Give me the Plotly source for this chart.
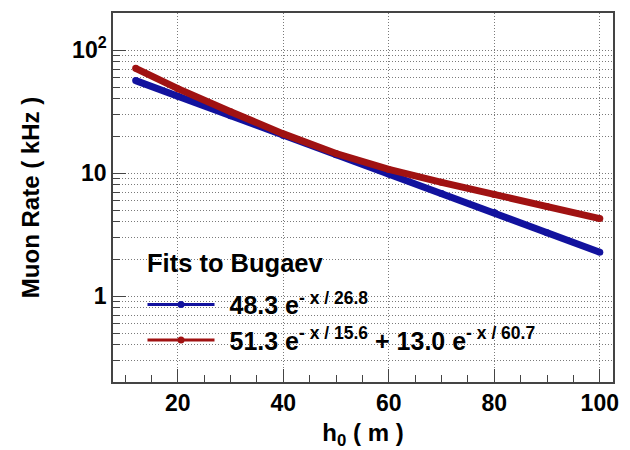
import plotly.graph_objects as go

# Values
h0 = [12, 20, 30, 40, 50, 60, 70, 80, 90, 100]
rate_single = [56.4, 42.1, 29.2, 20.2, 14.1, 9.8, 6.8, 4.78, 3.27, 2.27]
rate_double = [71.0, 48.5, 31.5, 20.8, 14.4, 10.7, 8.4, 6.7, 5.35, 4.26]

label_single = "&#8201;&#8201;48.3 e<sup>- x / 26.8</sup>"
label_double = "&#8201;&#8201;51.3 e<sup>- x / 15.6</sup> + 13.0 e<sup>- x / 60.7</sup>"
legend_title = "Fits to Bugaev"

x_ticks = [20, 40, 60, 80, 100]
y_ticks = [1, 10, 100]
y_ticktext = ["1", "10", "10<sup>2</sup>"]
y_minor = [0.2, 0.3, 0.4, 0.5, 0.6, 0.7, 0.8, 0.9,
           2, 3, 4, 5, 6, 7, 8, 9,
           20, 30, 40, 50, 60, 70, 80, 90, 200]

BLUE = "#12129e"
RED = "#a01212"
FONT = "Liberation Sans"
GRID = "#7a7a7a"
GRIDDASH = "1px,2px"

fig = go.Figure()
# curves
fig.add_trace(go.Scatter(x=h0, y=rate_single, mode="lines+markers",
                         line=dict(color=BLUE, width=7),
                         marker=dict(color=BLUE, size=7),
                         showlegend=False, hoverinfo="skip"))
fig.add_trace(go.Scatter(x=h0, y=rate_double, mode="lines+markers",
                         line=dict(color=RED, width=7),
                         marker=dict(color=RED, size=7),
                         showlegend=False, hoverinfo="skip"))
# legend entries
fig.add_trace(go.Scatter(x=[None], y=[None], mode="lines+markers", name=label_single,
                         legendgroup="a",
                         line=dict(color=BLUE, width=3), marker=dict(color=BLUE, size=7)))
fig.add_trace(go.Scatter(x=[None], y=[None], mode="lines+markers", name=label_double,
                         legendgroup="b",
                         line=dict(color=RED, width=3), marker=dict(color=RED, size=7)))

axis_common = dict(
    showline=True, mirror=True, linecolor="#444", linewidth=1.5,
    ticks="inside", tickcolor="#444", tickwidth=1,
    showgrid=True, gridcolor=GRID, griddash=GRIDDASH, gridwidth=1,
    zeroline=False, automargin=False,
    tickfont=dict(family=FONT, size=23, color="black", weight="bold"),
)

fig.update_xaxes(
    **axis_common,
    range=[7.7, 102.5],
    tickmode="array", tickvals=x_ticks, ticklen=13,
    minor=dict(ticks="inside", ticklen=7, tick0=0, dtick=5, tickcolor="#444", showgrid=False),
    title=dict(text="h<sub>0</sub> ( m )", font=dict(family=FONT, size=24, color="black", weight="bold"),
               standoff=16),
)
fig.update_yaxes(
    **axis_common,
    type="log",
    range=[-0.699, 2.301],
    tickmode="array", tickvals=y_ticks, ticktext=y_ticktext, ticklen=13,
    minor=dict(ticks="inside", ticklen=7, tickmode="array", tickvals=y_minor,
               tickcolor="#444", showgrid=True, gridcolor=GRID, griddash=GRIDDASH, gridwidth=1),
    title=dict(text="Muon Rate ( kHz )", font=dict(family=FONT, size=24, color="black", weight="bold"),
               standoff=26),
)

fig.add_annotation(
    text=legend_title, xref="paper", yref="paper", x=0.064, y=0.3225,
    xanchor="left", yanchor="middle", showarrow=False,
    font=dict(family=FONT, size=25.5, color="black", weight="bold"),
)

fig.update_layout(
    width=630, height=450,
    margin=dict(l=113, r=17, t=13, b=68),
    plot_bgcolor="white", paper_bgcolor="white",
    font=dict(family=FONT, color="black"),
    legend=dict(
        x=0.059, y=0.272, xanchor="left", yanchor="top",
        bgcolor="rgba(0,0,0,0)", borderwidth=0,
        itemwidth=67,
        font=dict(family=FONT, size=25, color="black", weight="bold"),
        tracegroupgap=0,
    ),
)

fig.write_html("out.html")
